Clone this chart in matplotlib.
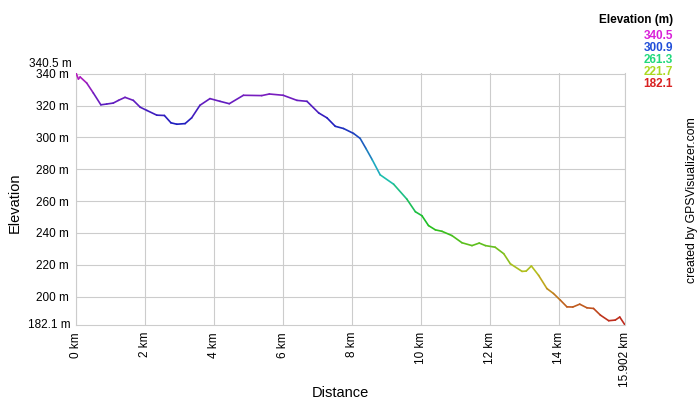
import matplotlib
matplotlib.use("Agg")
from matplotlib import pyplot as plt
from matplotlib.collections import LineCollection
import colorsys
import numpy as np

plt.rcParams["font.family"] = ["Liberation Sans", "DejaVu Sans"]

# Distance (km) and elevation (m)
distance = [0.0, 0.07, 0.12, 0.31, 0.5, 0.72, 0.89, 1.08, 1.23, 1.42, 1.66, 1.86,
            2.05, 2.34, 2.56, 2.75, 2.92, 3.16, 3.35, 3.59, 3.88, 4.17, 4.44,
            4.85, 5.38, 5.6, 6.0, 6.4, 6.69, 7.03, 7.27, 7.51, 7.75, 8.04, 8.23,
            8.4, 8.58, 8.81, 9.2, 9.58, 9.83, 10.02, 10.21, 10.41, 10.6, 10.89,
            11.18, 11.47, 11.68, 11.86, 12.14, 12.39, 12.58, 12.92, 13.04, 13.19,
            13.4, 13.64, 13.83, 14.03, 14.22, 14.39, 14.59, 14.8, 14.99, 15.19,
            15.43, 15.62, 15.75, 15.902]
elevation = [340.5, 336.7, 338.0, 334.2, 328.0, 320.5, 321.0, 321.6, 323.3, 325.2,
             323.3, 319.0, 317.0, 314.0, 313.8, 309.2, 308.3, 308.7, 312.3, 320.2,
             324.4, 322.7, 321.2, 326.5, 326.3, 327.3, 326.5, 323.3, 322.7, 315.4,
             312.3, 307.0, 305.6, 302.5, 299.4, 293.0, 286.0, 276.5, 270.6, 261.3,
             253.3, 250.8, 244.6, 241.9, 241.0, 238.3, 233.8, 232.0, 233.6, 232.0,
             231.0, 226.9, 220.6, 215.8, 216.0, 219.2, 213.3, 205.0, 201.9, 197.7,
             193.5, 193.4, 195.2, 192.9, 192.5, 188.3, 184.8, 185.2, 187.1, 182.1]

e_min, e_max = 182.1, 340.5
legend_values = [340.5, 300.9, 261.3, 221.7, 182.1]
y_ticks = [200, 220, 240, 260, 280, 300, 320, 340]
x_ticks = [0, 2, 4, 6, 8, 10, 12, 14]
total_km = 15.902


def elevation_color(e, v=0.8):
    """Red at the lowest point, magenta at the highest (hue spectrum)."""
    frac = (e - e_min) / (e_max - e_min)
    return colorsys.hsv_to_rgb(frac * 300 / 360, 0.85, v)


fig = plt.figure(figsize=(7, 4), dpi=100)
ax = fig.add_axes([76 / 700, 75 / 400, 549 / 700, 252 / 400])

pts = np.column_stack([distance, elevation])
segs = np.stack([pts[:-1], pts[1:]], axis=1)
mids = [(a + b) / 2 for a, b in zip(elevation[:-1], elevation[1:])]
lc = LineCollection(segs, colors=[elevation_color(m, v=0.75) for m in mids],
                    linewidth=1.2, capstyle="round", joinstyle="round", zorder=3)
ax.add_collection(lc)

ax.set_xlim(0, total_km)
ax.set_ylim(e_min, e_max)

ax.set_xticks(x_ticks + [total_km])
ax.set_xticklabels([f"{t} km" for t in x_ticks] + [f"{total_km} km"],
                   rotation=90, fontsize=8.5)
ax.set_yticks(y_ticks)
ax.set_yticklabels([f"{t} m" for t in y_ticks], fontsize=8.5)
ax.tick_params(length=0, pad=5)
ax.grid(True, color="#cccccc", linewidth=0.8)
ax.set_axisbelow(True)
for side in ("left", "bottom", "right"):
    ax.spines[side].set_color("#cccccc")
    ax.spines[side].set_linewidth(0.8)
ax.spines["top"].set_visible(False)

# min / max labels on the y axis
fig.text(72 / 700, 1 - 64 / 400, f"{e_max} m", ha="right", va="center", fontsize=8.5)
fig.text(71 / 700, 1 - 325 / 400, f"{e_min} m", ha="right", va="center", fontsize=8.5)

fig.text(15 / 700, 1 - 203 / 400, "Elevation", rotation=90, ha="center", va="center",
         fontsize=10.5)
fig.text(340 / 700, 1 - 393 / 400, "Distance", ha="center", va="center", fontsize=10.5)
fig.text(692 / 700, 1 - 200 / 400, "created by GPSVisualizer.com", rotation=90,
         ha="center", va="center", fontsize=8.8)

fig.text(673 / 700, 1 - 20 / 400, "Elevation (m)", ha="right", va="center",
         fontsize=8.5, fontweight="bold")
for i, val in enumerate(legend_values):
    fig.text(673 / 700, 1 - (36 + 12 * i) / 400, f"{val}", ha="right", va="center",
             fontsize=8.5, fontweight="bold", color=elevation_color(val, v=0.85))

fig.savefig("out.png", dpi=100)
